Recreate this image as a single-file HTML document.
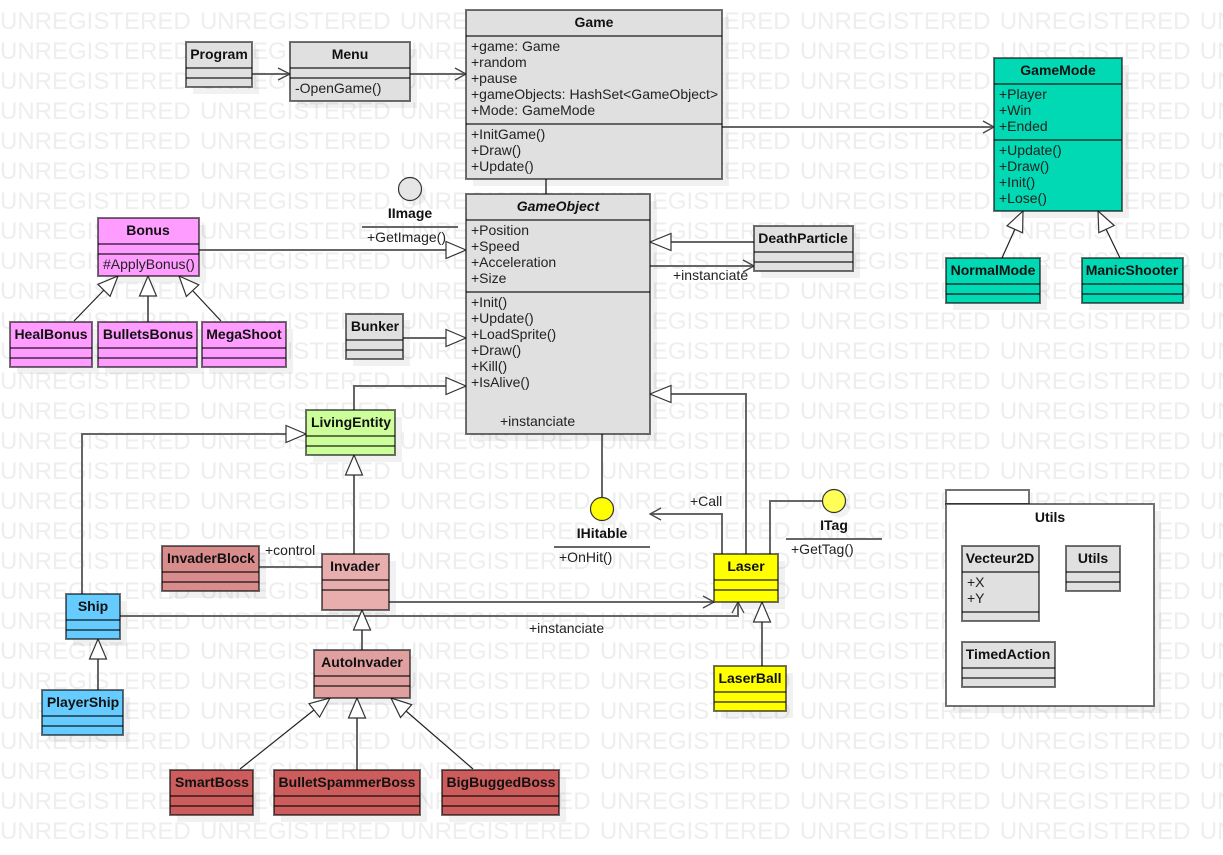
<!DOCTYPE html>
<html><head><meta charset="utf-8"><title>UML Class Diagram</title>
<style>
html,body{margin:0;padding:0;background:#fff;width:1223px;height:855px;overflow:hidden}
#wm{position:absolute;left:0;top:7px;width:1223px;height:848px;overflow:hidden;font:24px/30px "Liberation Sans",sans-serif;color:#eeeeee;white-space:pre;word-spacing:2.6px}
svg{position:absolute;left:0;top:0}
text{font-family:"Liberation Sans",sans-serif;font-size:14px;fill:#222}
.t{font-weight:bold;text-anchor:middle;fill:#111}
.b rect,.b line{stroke:rgba(0,0,0,.55);stroke-width:2}
.s{fill:rgba(0,0,0,.055);stroke:none!important}
.c{stroke:#666;stroke-width:2;fill:none}
.d{stroke:#222;stroke-width:1.2;fill:none}
.h{stroke:#444;stroke-width:1.3;fill:none}
.g{stroke:#333;stroke-width:1.2;fill:#fff}
.u{stroke:#666;stroke-width:2}
</style></head><body>
<div id="wm">UNREGISTERED UNREGISTERED UNREGISTERED UNREGISTERED UNREGISTERED UNREGISTERED UNREGISTERED
UNREGISTERED UNREGISTERED UNREGISTERED UNREGISTERED UNREGISTERED UNREGISTERED UNREGISTERED
UNREGISTERED UNREGISTERED UNREGISTERED UNREGISTERED UNREGISTERED UNREGISTERED UNREGISTERED
UNREGISTERED UNREGISTERED UNREGISTERED UNREGISTERED UNREGISTERED UNREGISTERED UNREGISTERED
UNREGISTERED UNREGISTERED UNREGISTERED UNREGISTERED UNREGISTERED UNREGISTERED UNREGISTERED
UNREGISTERED UNREGISTERED UNREGISTERED UNREGISTERED UNREGISTERED UNREGISTERED UNREGISTERED
UNREGISTERED UNREGISTERED UNREGISTERED UNREGISTERED UNREGISTERED UNREGISTERED UNREGISTERED
UNREGISTERED UNREGISTERED UNREGISTERED UNREGISTERED UNREGISTERED UNREGISTERED UNREGISTERED
UNREGISTERED UNREGISTERED UNREGISTERED UNREGISTERED UNREGISTERED UNREGISTERED UNREGISTERED
UNREGISTERED UNREGISTERED UNREGISTERED UNREGISTERED UNREGISTERED UNREGISTERED UNREGISTERED
UNREGISTERED UNREGISTERED UNREGISTERED UNREGISTERED UNREGISTERED UNREGISTERED UNREGISTERED
UNREGISTERED UNREGISTERED UNREGISTERED UNREGISTERED UNREGISTERED UNREGISTERED UNREGISTERED
UNREGISTERED UNREGISTERED UNREGISTERED UNREGISTERED UNREGISTERED UNREGISTERED UNREGISTERED
UNREGISTERED UNREGISTERED UNREGISTERED UNREGISTERED UNREGISTERED UNREGISTERED UNREGISTERED
UNREGISTERED UNREGISTERED UNREGISTERED UNREGISTERED UNREGISTERED UNREGISTERED UNREGISTERED
UNREGISTERED UNREGISTERED UNREGISTERED UNREGISTERED UNREGISTERED UNREGISTERED UNREGISTERED
UNREGISTERED UNREGISTERED UNREGISTERED UNREGISTERED UNREGISTERED UNREGISTERED UNREGISTERED
UNREGISTERED UNREGISTERED UNREGISTERED UNREGISTERED UNREGISTERED UNREGISTERED UNREGISTERED
UNREGISTERED UNREGISTERED UNREGISTERED UNREGISTERED UNREGISTERED UNREGISTERED UNREGISTERED
UNREGISTERED UNREGISTERED UNREGISTERED UNREGISTERED UNREGISTERED UNREGISTERED UNREGISTERED
UNREGISTERED UNREGISTERED UNREGISTERED UNREGISTERED UNREGISTERED UNREGISTERED UNREGISTERED
UNREGISTERED UNREGISTERED UNREGISTERED UNREGISTERED UNREGISTERED UNREGISTERED UNREGISTERED
UNREGISTERED UNREGISTERED UNREGISTERED UNREGISTERED UNREGISTERED UNREGISTERED UNREGISTERED
UNREGISTERED UNREGISTERED UNREGISTERED UNREGISTERED UNREGISTERED UNREGISTERED UNREGISTERED
UNREGISTERED UNREGISTERED UNREGISTERED UNREGISTERED UNREGISTERED UNREGISTERED UNREGISTERED
UNREGISTERED UNREGISTERED UNREGISTERED UNREGISTERED UNREGISTERED UNREGISTERED UNREGISTERED
UNREGISTERED UNREGISTERED UNREGISTERED UNREGISTERED UNREGISTERED UNREGISTERED UNREGISTERED
UNREGISTERED UNREGISTERED UNREGISTERED UNREGISTERED UNREGISTERED UNREGISTERED UNREGISTERED</div>
<svg width="1223" height="855" viewBox="0 0 1223 855" xmlns="http://www.w3.org/2000/svg">

<!-- shadows -->
<g class="b">
<rect class="s" x="193" y="49" width="66" height="45"/><rect class="s" x="297" y="49" width="120" height="59"/>
<rect class="s" x="473" y="17" width="256" height="169"/><rect class="s" x="473" y="201" width="184" height="240"/>
<rect class="s" x="1001" y="65" width="128" height="153"/><rect class="s" x="953" y="265" width="94" height="45"/>
<rect class="s" x="1089" y="265" width="101" height="45"/><rect class="s" x="105" y="225" width="101" height="58"/>
<rect class="s" x="17" y="329" width="82" height="45"/><rect class="s" x="105" y="329" width="99" height="45"/>
<rect class="s" x="209" y="329" width="84" height="45"/><rect class="s" x="353" y="320" width="57" height="46"/>
<rect class="s" x="313" y="417" width="89" height="45"/><rect class="s" x="761" y="233" width="99" height="45"/>
<rect class="s" x="169" y="553" width="97" height="45"/><rect class="s" x="329" y="561" width="67" height="56"/>
<rect class="s" x="73" y="601" width="54" height="45"/><rect class="s" x="49" y="697" width="81" height="45"/>
<rect class="s" x="321" y="657" width="96" height="48"/><rect class="s" x="177" y="777" width="83" height="45"/>
<rect class="s" x="281" y="777" width="146" height="45"/><rect class="s" x="449" y="777" width="117" height="45"/>
<rect class="s" x="721" y="561" width="64" height="48"/><rect class="s" x="721" y="673" width="72" height="45"/>
<rect class="s" x="953" y="511" width="208" height="202"/>
<circle cx="415" cy="194" r="11.5" fill="rgba(0,0,0,.05)"/><circle cx="607" cy="514" r="11.5" fill="rgba(0,0,0,.05)"/><circle cx="839" cy="506" r="11.5" fill="rgba(0,0,0,.05)"/>
</g>

<!-- connectors -->
<g class="c">
<path d="M252 74H289"/><path d="M410 74H465"/><path d="M722 127H993"/><path d="M546 179V194"/>
<path d="M199 250H447"/><path d="M754 242H671"/><path d="M650 266H753"/>
<path d="M403 338H447"/><path d="M354 410V386H447"/><path d="M746 554V394H671"/>
<path d="M602 434V498"/><path d="M722 554V514H651"/><path d="M770 554V501H823"/>
<path d="M389 602H713"/><path d="M120 616H738V603"/><path d="M762 666V622"/>
<path d="M82 594V434H286"/><path d="M354 554V475"/><path d="M259 567H322"/>
<path d="M362 650V630"/><path d="M98 690V659"/><path d="M357 770V718"/><path d="M148 322V296"/>
</g>
<g class="d">
<path d="M240 769L314 710"/><path d="M473 769L406 711"/><path d="M74 321L104 290"/><path d="M221 321L193 291"/>
<path d="M1002 258L1015 229"/><path d="M1120 258L1106 229"/>
</g>
<!-- open arrowheads -->
<g class="h">
<path d="M278 68L290 74L278 80"/><path d="M455 68L466 74L455 80"/><path d="M983 121L994 127L983 133"/>
<path d="M743 260L754 266L743 272"/><path d="M661 508L650 514L661 520"/>
<path d="M703 596L714 602L703 608"/><path d="M732 613L738 602L744 613"/>
</g>
<!-- generalization triangles -->
<g class="g">
<path d="M466 250L446 241.5V258.5Z"/><path d="M650 242L671 233.5V250.5Z"/><path d="M466 338L446 329.5V346.5Z"/>
<path d="M466 386L446 377.5V394.5Z"/><path d="M650 394L671 385.5V402.5Z"/><path d="M306 434L286 425.5V442.5Z"/>
<path d="M354 455L345.500 475H362.500Z"/><path d="M362 610L353.500 630H370.500Z"/><path d="M98 639L89.500 659H106.500Z"/>
<path d="M762 602L753.500 622H770.500Z"/><path d="M357 698L348.500 718H365.500Z"/><path d="M148 276L139.500 296H156.500Z"/>
<path d="M118 276L110.100 296.300L97.900 284.300Z"/><path d="M179 276L198.800 284.800L186.400 296.400Z"/>
<path d="M330 698L319.600 717.100L309 703.700Z"/><path d="M391 698L411.700 704.700L400.500 717.500Z"/>
<path d="M1023 211L1022.600 232.800L1007 225.800Z"/><path d="M1098 211L1114.200 225.500L1098.800 232.700Z"/>
</g>

<!-- Utils package -->
<g class="b">
<rect x="946" y="490" width="83" height="14" fill="#fff"/>
<rect x="946" y="504" width="208" height="202" fill="#fff"/>
</g>

<!-- classes -->
<g class="b">
<rect x="186" y="42" width="66" height="45" fill="#e0e0e0"/><line x1="186" y1="68" x2="252" y2="68"/><line x1="186" y1="78" x2="252" y2="78"/>
<rect x="290" y="42" width="120" height="59" fill="#e0e0e0"/><line x1="290" y1="68" x2="410" y2="68"/><line x1="290" y1="78" x2="410" y2="78"/>
<rect x="466" y="10" width="256" height="169" fill="#e0e0e0"/><line x1="466" y1="36" x2="722" y2="36"/><line x1="466" y1="124" x2="722" y2="124"/>
<rect x="466" y="194" width="184" height="240" fill="#e0e0e0"/><line x1="466" y1="220" x2="650" y2="220"/><line x1="466" y1="292" x2="650" y2="292"/>
<rect x="994" y="58" width="128" height="153" fill="#00d9b3"/><line x1="994" y1="84" x2="1122" y2="84"/><line x1="994" y1="140" x2="1122" y2="140"/>
<rect x="946" y="258" width="94" height="45" fill="#00d9b3"/><line x1="946" y1="284" x2="1040" y2="284"/><line x1="946" y1="294" x2="1040" y2="294"/>
<rect x="1082" y="258" width="101" height="45" fill="#00d9b3"/><line x1="1082" y1="284" x2="1183" y2="284"/><line x1="1082" y1="294" x2="1183" y2="294"/>
<rect x="98" y="218" width="101" height="58" fill="#ff9cff"/><line x1="98" y1="244" x2="199" y2="244"/><line x1="98" y1="254" x2="199" y2="254"/>
<rect x="10" y="322" width="82" height="45" fill="#ff9cff"/><line x1="10" y1="348" x2="92" y2="348"/><line x1="10" y1="358" x2="92" y2="358"/>
<rect x="98" y="322" width="99" height="45" fill="#ff9cff"/><line x1="98" y1="348" x2="197" y2="348"/><line x1="98" y1="358" x2="197" y2="358"/>
<rect x="202" y="322" width="84" height="45" fill="#ff9cff"/><line x1="202" y1="348" x2="286" y2="348"/><line x1="202" y1="358" x2="286" y2="358"/>
<rect x="346" y="314" width="57" height="45" fill="#e0e0e0"/><line x1="346" y1="340" x2="403" y2="340"/><line x1="346" y1="350" x2="403" y2="350"/>
<rect x="306" y="410" width="89" height="45" fill="#ccff99"/><line x1="306" y1="436" x2="395" y2="436"/><line x1="306" y1="446" x2="395" y2="446"/>
<rect x="754" y="226" width="99" height="45" fill="#e0e0e0"/><line x1="754" y1="252" x2="853" y2="252"/><line x1="754" y1="262" x2="853" y2="262"/>
<rect x="162" y="546" width="97" height="45" fill="#d98c8c"/><line x1="162" y1="572" x2="259" y2="572"/><line x1="162" y1="582" x2="259" y2="582"/>
<rect x="322" y="554" width="67" height="56" fill="#e8adad"/><line x1="322" y1="580" x2="389" y2="580"/><line x1="322" y1="590" x2="389" y2="590"/>
<rect x="66" y="594" width="54" height="45" fill="#66ccff"/><line x1="66" y1="620" x2="120" y2="620"/><line x1="66" y1="630" x2="120" y2="630"/>
<rect x="42" y="690" width="81" height="45" fill="#66ccff"/><line x1="42" y1="716" x2="123" y2="716"/><line x1="42" y1="726" x2="123" y2="726"/>
<rect x="314" y="650" width="96" height="48" fill="#e0a0a0"/><line x1="314" y1="676" x2="410" y2="676"/><line x1="314" y1="686" x2="410" y2="686"/>
<rect x="170" y="770" width="83" height="45" fill="#cd5c5c"/><line x1="170" y1="796" x2="253" y2="796"/><line x1="170" y1="806" x2="253" y2="806"/>
<rect x="274" y="770" width="146" height="45" fill="#cd5c5c"/><line x1="274" y1="796" x2="420" y2="796"/><line x1="274" y1="806" x2="420" y2="806"/>
<rect x="442" y="770" width="117" height="45" fill="#cd5c5c"/><line x1="442" y1="796" x2="559" y2="796"/><line x1="442" y1="806" x2="559" y2="806"/>
<rect x="714" y="554" width="64" height="48" fill="#ffff00"/><line x1="714" y1="580" x2="778" y2="580"/><line x1="714" y1="590" x2="778" y2="590"/>
<rect x="714" y="666" width="72" height="45" fill="#ffff00"/><line x1="714" y1="692" x2="786" y2="692"/><line x1="714" y1="702" x2="786" y2="702"/>
<rect x="962" y="546" width="77" height="75" fill="#e0e0e0"/><line x1="962" y1="572" x2="1039" y2="572"/><line x1="962" y1="612" x2="1039" y2="612"/>
<rect x="1066" y="546" width="54" height="45" fill="#e0e0e0"/><line x1="1066" y1="572" x2="1120" y2="572"/><line x1="1066" y1="582" x2="1120" y2="582"/>
<rect x="962" y="642" width="93" height="45" fill="#e0e0e0"/><line x1="962" y1="668" x2="1055" y2="668"/><line x1="962" y1="678" x2="1055" y2="678"/>
</g>

<!-- interfaces -->
<circle cx="410" cy="189" r="11.500" fill="#e6e6e6" stroke="#333" stroke-width="1.200"/>
<circle cx="602" cy="509" r="11.500" fill="#ffff00" stroke="#333" stroke-width="1.200"/>
<circle cx="834" cy="501" r="11.500" fill="#ffff55" stroke="#333" stroke-width="1.200"/>
<line class="u" x1="362" y1="227" x2="458" y2="227"/>
<line class="u" x1="554" y1="547" x2="650" y2="547"/>
<line class="u" x1="786" y1="539" x2="882" y2="539"/>

<!-- titles -->
<text class="t" x="219" y="59">Program</text>
<text class="t" x="350" y="59">Menu</text>
<text class="t" x="594" y="27">Game</text>
<text class="t" x="558" y="211" font-style="italic">GameObject</text>
<text class="t" x="1058" y="75">GameMode</text>
<text class="t" x="993" y="275">NormalMode</text>
<text class="t" x="1132" y="275">ManicShooter</text>
<text class="t" x="148" y="235">Bonus</text>
<text class="t" x="51" y="339">HealBonus</text>
<text class="t" x="148" y="339">BulletsBonus</text>
<text class="t" x="244" y="339">MegaShoot</text>
<text class="t" x="375" y="331">Bunker</text>
<text class="t" x="351" y="427">LivingEntity</text>
<text class="t" x="803" y="243">DeathParticle</text>
<text class="t" x="211" y="563">InvaderBlock</text>
<text class="t" x="355" y="571">Invader</text>
<text class="t" x="93" y="611">Ship</text>
<text class="t" x="83" y="707">PlayerShip</text>
<text class="t" x="362" y="667">AutoInvader</text>
<text class="t" x="212" y="787">SmartBoss</text>
<text class="t" x="347" y="787">BulletSpammerBoss</text>
<text class="t" x="501" y="787">BigBuggedBoss</text>
<text class="t" x="746" y="571">Laser</text>
<text class="t" x="750" y="683">LaserBall</text>
<text class="t" x="1000" y="563">Vecteur2D</text>
<text class="t" x="1093" y="563">Utils</text>
<text class="t" x="1008" y="659">TimedAction</text>
<text class="t" x="1050" y="522">Utils</text>
<text class="t" x="410" y="218">IImage</text>
<text class="t" x="602" y="538">IHitable</text>
<text class="t" x="834" y="530">ITag</text>

<!-- members -->
<text x="295" y="93">-OpenGame()</text>
<text x="471" y="51">+game: Game</text>
<text x="471" y="67">+random</text>
<text x="471" y="83">+pause</text>
<text x="471" y="99">+gameObjects: HashSet&lt;GameObject&gt;</text>
<text x="471" y="115">+Mode: GameMode</text>
<text x="471" y="139">+InitGame()</text>
<text x="471" y="155">+Draw()</text>
<text x="471" y="171">+Update()</text>
<text x="471" y="235">+Position</text>
<text x="471" y="251">+Speed</text>
<text x="471" y="267">+Acceleration</text>
<text x="471" y="283">+Size</text>
<text x="471" y="307">+Init()</text>
<text x="471" y="323">+Update()</text>
<text x="471" y="339">+LoadSprite()</text>
<text x="471" y="355">+Draw()</text>
<text x="471" y="371">+Kill()</text>
<text x="471" y="387">+IsAlive()</text>
<text x="500" y="426">+instanciate</text>
<text x="999" y="99">+Player</text>
<text x="999" y="115">+Win</text>
<text x="999" y="131">+Ended</text>
<text x="999" y="155">+Update()</text>
<text x="999" y="171">+Draw()</text>
<text x="999" y="187">+Init()</text>
<text x="999" y="203">+Lose()</text>
<text x="103" y="269">#ApplyBonus()</text>
<text x="967" y="587">+X</text>
<text x="967" y="603">+Y</text>
<text x="367" y="242">+GetImage()</text>
<text x="559" y="562">+OnHit()</text>
<text x="791" y="554">+GetTag()</text>
<text x="673" y="280">+instanciate</text>
<text x="690" y="506">+Call</text>
<text x="265" y="555">+control</text>
<text x="529" y="633">+instanciate</text>
</svg>
</body></html>
